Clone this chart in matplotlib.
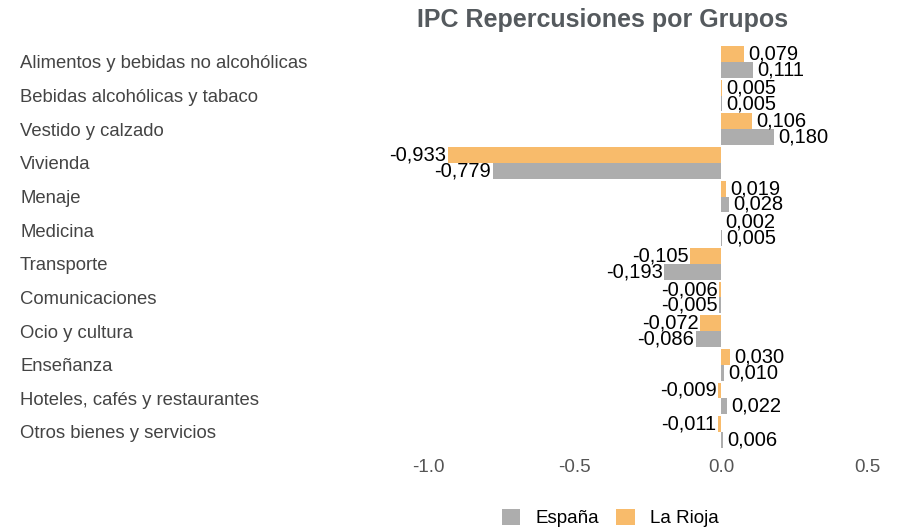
import matplotlib
matplotlib.use('Agg')
import matplotlib.pyplot as plt
import numpy as np

categories = ['Alimentos y bebidas no alcohólicas', 'Bebidas alcohólicas y tabaco',
              'Vestido y calzado', 'Vivienda', 'Menaje', 'Medicina', 'Transporte',
              'Comunicaciones', 'Ocio y cultura', 'Enseñanza',
              'Hoteles, cafés y restaurantes', 'Otros bienes y servicios']
espana = [0.111, 0.005, 0.180, -0.779, 0.028, 0.005, -0.193, -0.005, -0.086, 0.010, 0.022, 0.006]
rioja = [0.079, 0.005, 0.106, -0.933, 0.019, 0.002, -0.105, -0.006, -0.072, 0.030, -0.009, -0.011]
xticks = [-1.0, -0.5, 0.0, 0.5]

plt.rcParams['font.family'] = ['Liberation Sans', 'DejaVu Sans']
colEsp = '#adadad'
colRio = '#f8bb6b'

fig = plt.figure(figsize=(8.97, 5.29), dpi=100)
ax = fig.add_axes([398.7/897, 0.1516, (882-398.7)/897, 0.9146-0.1516])

y = np.arange(len(categories))
h = 0.47
barsR = ax.barh(y - h/2, rioja, height=h, color=colRio, label='La Rioja')
barsE = ax.barh(y + h/2, espana, height=h, color=colEsp, label='España')

def fmt(v):
    return ('%.3f' % v).replace('.', ',')

for vals, offs in ((rioja, -h/2), (espana, h/2)):
    for i, v in enumerate(vals):
        if v >= 0:
            ax.annotate(fmt(v), (v, i + offs), xytext=(3, 0), textcoords='offset points',
                        ha='left', va='center', fontsize=14.5, color='black')
        else:
            ax.annotate(fmt(v), (v, i + offs), xytext=(-1, 0), textcoords='offset points',
                        ha='right', va='center', fontsize=14.5, color='black')

ax.set_xlim(-1.1, 0.55)
ax.set_ylim(11.5, -0.5)
ax.set_xticks(xticks)
ax.set_xticklabels(['%.1f' % t for t in xticks], fontsize=13.5, color='#555555')
ax.set_yticks(y)
ax.set_yticklabels(categories, fontsize=13.3, color='#444444', ha='left')
ax.tick_params(axis='y', length=0, pad=(398.7 - 20) * 0.72)
ax.tick_params(axis='x', length=0, pad=7)
for s in ax.spines.values():
    s.set_visible(False)

fig.text(603/897, 1 - 20/529, 'IPC Repercusiones por Grupos', ha='center', va='center',
         fontsize=18, fontweight='bold', color='#555a5e')

handles = [barsE, barsR]
fig.legend(handles, ['España', 'La Rioja'], loc='center', bbox_to_anchor=(610/897, 1 - 518/529),
           ncol=2, frameon=False, fontsize=13.5, handlelength=1.0, handleheight=1.0,
           columnspacing=0.9, handletextpad=0.8)

fig.savefig('out.png', dpi=100)
